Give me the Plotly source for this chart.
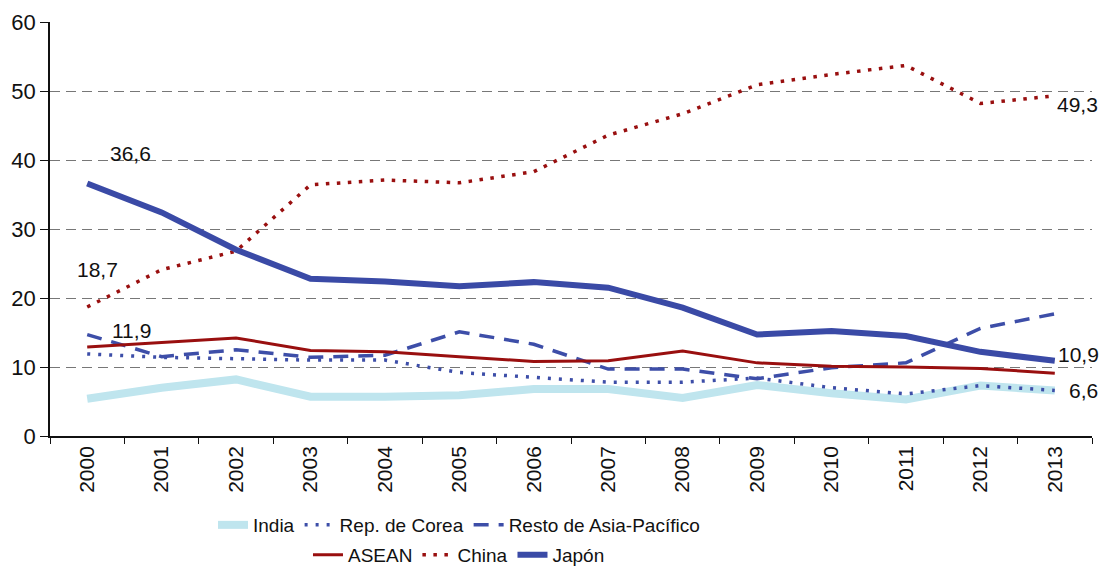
import plotly.graph_objects as go

years = ["2000","2001","2002","2003","2004","2005","2006","2007","2008","2009","2010","2011","2012","2013"]
india = [5.4, 7.0, 8.2, 5.7, 5.7, 5.9, 6.8, 6.8, 5.5, 7.4, 6.2, 5.3, 7.3, 6.6]
corea = [11.9, 11.4, 11.2, 11.0, 11.0, 9.2, 8.5, 7.8, 7.8, 8.4, 7.0, 6.1, 7.3, 6.6]
resto = [14.7, 11.5, 12.5, 11.4, 11.7, 15.1, 13.3, 9.7, 9.7, 8.3, 9.9, 10.6, 15.6, 17.7]
asean = [12.9, 13.6, 14.2, 12.4, 12.2, 11.5, 10.8, 10.9, 12.3, 10.6, 10.1, 10.0, 9.8, 9.1]
china = [18.7, 24.1, 26.8, 36.4, 37.1, 36.7, 38.3, 43.6, 46.7, 50.9, 52.4, 53.7, 48.2, 49.3]
japon = [36.6, 32.4, 27.0, 22.8, 22.4, 21.7, 22.3, 21.5, 18.6, 14.7, 15.2, 14.5, 12.2, 10.9]

FONT = "Liberation Sans, Arial, sans-serif"

fig = go.Figure()
fig.add_trace(go.Scatter(x=years, y=india, name="India", mode="lines",
                         line=dict(color="#bfe5ee", width=8), legend="legend"))
fig.add_trace(go.Scatter(x=years, y=corea, name="Rep. de Corea", mode="lines",
                         line=dict(color="#3d4ea8", width=3.5, dash="3px,8px"), legend="legend"))
fig.add_trace(go.Scatter(x=years, y=resto, name="Resto de Asia-Pacífico", mode="lines",
                         line=dict(color="#3d4ea8", width=3.5, dash="15px,10px"), legend="legend"))
fig.add_trace(go.Scatter(x=years, y=asean, name="ASEAN", mode="lines",
                         line=dict(color="#990f0f", width=3), legend="legend2"))
fig.add_trace(go.Scatter(x=years, y=china, name="China", mode="lines",
                         line=dict(color="#990f0f", width=3.5, dash="3.5px,7.5px"), legend="legend2"))
fig.add_trace(go.Scatter(x=years, y=japon, name="Japón", mode="lines",
                         line=dict(color="#3a4aa6", width=6), legend="legend2"))

# (category index, value, text, xshift, yshift, anchor)
labels = [(0, japon[0], "36,6", 21, 30, "left"), (0, china[0], "18,7", 10, 37, "center"),
          (0, corea[0], "11,9", 23, 23, "left"), (13, china[13], "49,3", 0, -9, "left"),
          (13, japon[13], "10,9", 1, 6, "left"), (13, india[13], "6,6", 12, 0, "left")]
for x, y, t, ax, ay, anc in labels:
    fig.add_annotation(x=x, y=y, text=t, showarrow=False, xshift=ax, yshift=ay,
                       xanchor=anc, yanchor="middle",
                       font=dict(size=21, color="#111111", family=FONT))

# The page body has an 8px margin, so the figure is 8px smaller to fit 1111x567
fig.update_layout(
    width=1103, height=559,
    margin=dict(l=42, r=19, t=14, b=131, autoexpand=False),
    paper_bgcolor="white", plot_bgcolor="white",
    font=dict(family=FONT, size=18, color="#111111"),
    legend=dict(orientation="h", x=0.3925, xanchor="center", y=-0.215, yanchor="middle",
                font=dict(size=19), itemwidth=30, tracegroupgap=0,
                bgcolor="rgba(0,0,0,0)"),
    legend2=dict(orientation="h", x=0.3925, xanchor="center", y=-0.287, yanchor="middle",
                 font=dict(size=19), itemwidth=30, tracegroupgap=0,
                 bgcolor="rgba(0,0,0,0)"),
    xaxis=dict(type="category", tickson="boundaries", ticks="outside", ticklen=6,
               tickcolor="#111111", showline=True, linecolor="#111111", linewidth=1.5,
               showgrid=False, tickangle=-90, tickfont=dict(size=21), range=[-0.5, 13.5],
               automargin=False),
    yaxis=dict(range=[0, 60], dtick=10, ticks="outside", ticklen=8, tickcolor="#111111",
               showline=True, linecolor="#111111", linewidth=1.5,
               showgrid=True, gridcolor="#777777", gridwidth=1.2, griddash="10px,6px",
               zeroline=False, tickfont=dict(size=22), automargin=False),
)

fig.write_html("out.html")
